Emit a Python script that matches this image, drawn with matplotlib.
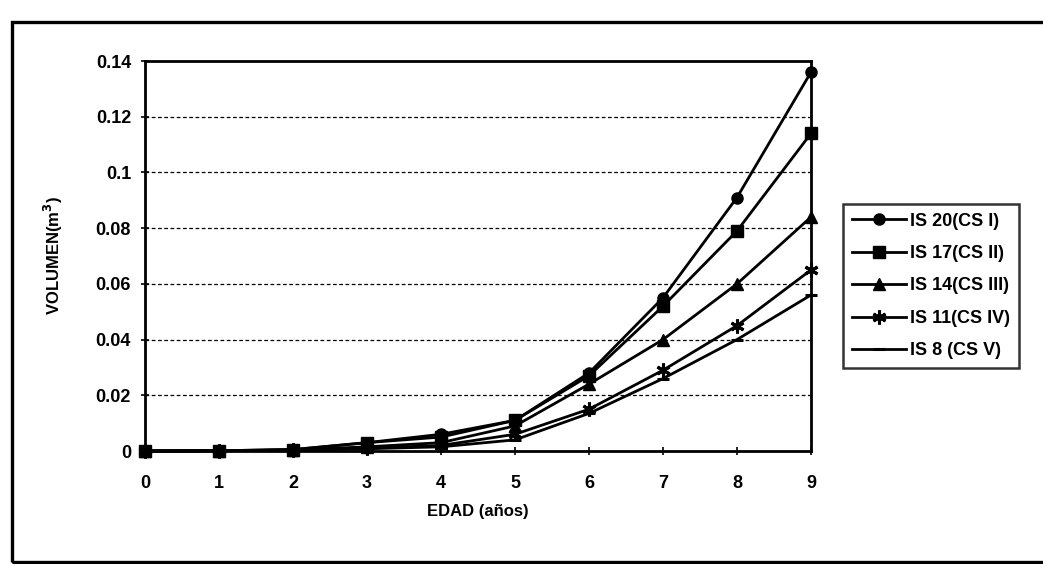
import matplotlib.pyplot as plt
from matplotlib.patches import Rectangle

# Volumen por edad para cada índice de sitio
edad = [0, 1, 2, 3, 4, 5, 6, 7, 8, 9]
is20 = [0, 0.0001, 0.0005, 0.003, 0.006, 0.011, 0.028, 0.055, 0.091, 0.136]
is17 = [0, 0.0001, 0.0005, 0.003, 0.005, 0.011, 0.027, 0.052, 0.079, 0.114]
is14 = [0, 0.0001, 0.0004, 0.0015, 0.003, 0.009, 0.024, 0.040, 0.060, 0.084]
is11 = [0, 0.0001, 0.0003, 0.001, 0.002, 0.006, 0.015, 0.029, 0.045, 0.065]
is8 = [0, 0.0001, 0.0003, 0.0008, 0.0015, 0.004, 0.0135, 0.026, 0.040, 0.056]
etiquetas = ['IS 20(CS I)', 'IS 17(CS II)', 'IS 14(CS III)', 'IS 11(CS IV)', 'IS 8 (CS V)']
y_ticks = [0, 0.02, 0.04, 0.06, 0.08, 0.1, 0.12, 0.14]
y_labels = ['0', '0.02', '0.04', '0.06', '0.08', '0.1', '0.12', '0.14']

plt.rcParams['font.family'] = ['Liberation Sans', 'DejaVu Sans']
plt.rcParams['font.weight'] = 'bold'

fig = plt.figure(figsize=(10.43, 5.64), dpi=100)
W, H = 1043, 564
ax = fig.add_axes([145 / W, 1 - 451 / H, (811 - 145) / W, (451 - 61) / H])

# marco exterior
fig.patches.append(Rectangle((12 / W, 1 - 562 / H), 1.05, (562 - 22) / H,
                             transform=fig.transFigure, fill=False,
                             edgecolor='black', linewidth=2.4))

series = [is20, is17, is14, is11, is8]
markers = ['o', 's', '^', (6, 2, 0), '_']
sizes = [8, 8, 8, 10, 9]
for vals, m, ms, lab in zip(series, markers, sizes, etiquetas):
    ax.plot(edad, vals, color='black', linewidth=2, marker=m, markersize=ms,
            markeredgewidth=2.2 if m in ('_', (6, 2, 0)) else 1, label=lab,
            clip_on=False, zorder=3)

ax.set_xlim(0, 9)
ax.set_ylim(0, 0.14)
ax.set_xticks(edad)
ax.set_yticks(y_ticks)
ax.set_yticklabels(y_labels)
for y in y_ticks[1:-1]:
    ax.axhline(y, color='black', linestyle=(0, (3, 2)), linewidth=0.9, zorder=0)

ax.tick_params(axis='both', direction='inout', length=6, width=1.2,
               labelsize=13, pad=7)
ax.tick_params(axis='x', pad=14)
for s in ax.spines.values():
    s.set_linewidth(2)

ax.set_xlabel('EDAD (años)', fontsize=12, fontweight='bold', labelpad=9)
ax.set_ylabel('VOLUMEN(m$^3$)', fontsize=12, fontweight='bold', labelpad=22)

leg = ax.legend(loc='center', bbox_to_anchor=(840 / W, 1 - 377 / H, 182 / W, 182 / H),
                bbox_transform=fig.transFigure, fontsize=13,
                frameon=True, fancybox=False, edgecolor='black', handlelength=3.0,
                labelspacing=0.85, borderaxespad=0, handletextpad=0.2,
                borderpad=0.5)
leg.get_frame().set_linewidth(1.8)
for t in leg.get_texts():
    t.set_fontweight('bold')

fig.savefig('out.png', dpi=100)
